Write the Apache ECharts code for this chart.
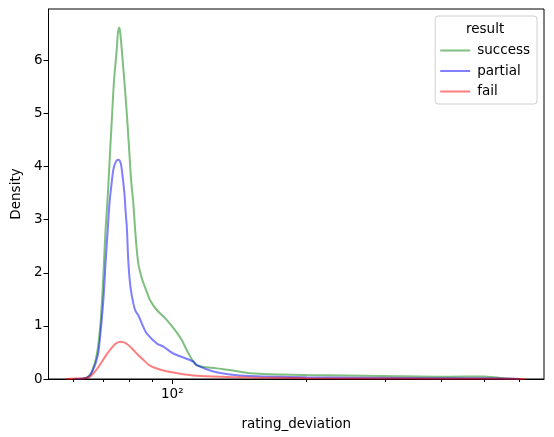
<!DOCTYPE html>
<html>
<head>
<meta charset="utf-8">
<script src="https://cdn.jsdelivr.net/npm/echarts@6/dist/echarts.min.js"></script>
<style>
html,body{margin:0;padding:0;background:#fff;}
#chart{width:554px;height:437px;}
</style>
</head>
<body>
<div id="chart"></div>
<script>
// kde curves, x = rating_deviation, y = density
const successX = [60.5, 64.3, 66.0, 67.7, 68.9, 69.7, 70.3, 70.9, 71.7, 72.6, 73.3, 74.0, 75.1, 75.5, 76.0, 76.45, 77.0, 78.1, 79.1, 80.0, 80.9, 81.8, 82.5, 83.2, 84.0, 85.1, 86.2, 87.5, 89.1, 92.3, 97.2, 101.4, 104.9, 108.6, 113.4, 125.7, 134.6, 149.3, 200, 296.5, 418.8, 496.5, 541.9, 575.6, 600.6]
const successY = [0, 0.025, 0.14, 0.45, 0.96, 1.58, 2.21, 2.84, 3.47, 4.35, 4.98, 5.60, 6.23, 6.50, 6.62, 6.52, 6.23, 5.60, 4.98, 4.35, 3.72, 3.30, 2.84, 2.45, 2.15, 1.95, 1.80, 1.66, 1.49, 1.30, 1.11, 0.92, 0.74, 0.49, 0.26, 0.20, 0.17, 0.11, 0.075, 0.057, 0.043, 0.047, 0.02, 0.006, 0]
const partialX = [60.5, 64.3, 66.2, 68.1, 69.2, 70.2, 70.9, 71.7, 72.3, 73.1, 73.8, 74.8, 75.7, 76.6, 77.3, 78.1, 78.6, 79.1, 79.7, 80.3, 81.1, 82.5, 83.9, 86.1, 87.6, 92.3, 95.5, 100.5, 111.4, 113.4, 123.6, 134.6, 149.3, 200, 323.6, 488.8, 575.6, 600.6]
const partialY = [0, 0.025, 0.14, 0.45, 0.96, 1.58, 2.21, 2.84, 3.30, 3.68, 3.95, 4.10, 4.13, 4.07, 3.85, 3.50, 3.15, 2.84, 2.21, 1.85, 1.58, 1.30, 1.20, 0.98, 0.86, 0.67, 0.61, 0.48, 0.33, 0.26, 0.14, 0.085, 0.057, 0.032, 0.019, 0.013, 0.006, 0]
const failX = [57.8, 60.5, 64.8, 67.1, 69.5, 71.2, 73.2, 74.8, 76.7, 78.75, 81.1, 83.2, 85.4, 89.1, 95.5, 104.1, 113.4, 134.6, 149.3, 200, 323.6, 488.8, 616.6]
const failY = [0, 0.008, 0.025, 0.14, 0.32, 0.46, 0.59, 0.67, 0.70, 0.67, 0.58, 0.48, 0.39, 0.25, 0.16, 0.10, 0.062, 0.04, 0.03, 0.015, 0.008, 0.004, 0]

const names = ['success', 'partial', 'fail']
const colors = ['rgba(0,128,0,0.5)', 'rgba(0,0,255,0.5)', 'rgba(255,0,0,0.5)']
const xMajor = [100]
const xMinor = [60, 70, 80, 90, 200, 300, 400, 500, 600]
const yTicks = [0, 1, 2, 3, 4, 5, 6]

const font = 'DejaVu Sans'
const pairs = (xs, ys) => xs.map((x, i) => [x, ys[i]])
const allData = [pairs(successX, successY), pairs(partialX, partialY), pairs(failX, failY)]

let chart = echarts.init(document.getElementById('chart'))
let option = {
    animation: false,
    backgroundColor: '#fff',
    grid: {
        left: 48.5, right: 10, top: 9, bottom: 58,
        show: true, borderColor: '#000', borderWidth: 1, backgroundColor: 'transparent'
    },
    legend: {
        data: names,
        orient: 'vertical',
        right: 17, top: 16,
        padding: [27.5, 7, 5.5, 5],
        icon: 'rect',
        itemWidth: 30, itemHeight: 2, itemGap: 6.5,
        backgroundColor: '#fff',
        borderColor: '#d0d0d0', borderWidth: 1, borderRadius: 3,
        textStyle: { fontFamily: font, fontSize: 13.5, color: '#000', padding: [0, 0, 0, 2] }
    },
    graphic: [{
        type: 'text', left: 466, top: 22, z: 200,
        style: { text: 'result', fontFamily: font, fontSize: 13.5, fill: '#000' }
    }],
    xAxis: [{
        type: 'log', logBase: 10, min: 52.8, max: 680,
        name: 'rating_deviation', nameLocation: 'middle', nameGap: 38,
        nameTextStyle: { fontFamily: font, fontSize: 13.5, color: '#000' },
        axisLine: { lineStyle: { color: '#000' } },
        axisTick: { customValues: xMajor, length: 5, lineStyle: { color: '#000' } },
        axisLabel: { customValues: xMajor, formatter: () => '10²', fontFamily: font, fontSize: 13.5, color: '#000', margin: 8 },
        splitLine: { show: false }
    }, {
        type: 'log', logBase: 10, min: 52.8, max: 680, position: 'bottom',
        axisLine: { show: false },
        axisTick: { customValues: xMinor, length: 3, lineStyle: { color: '#000' } },
        axisLabel: { show: false },
        splitLine: { show: false }
    }],
    yAxis: {
        type: 'value', min: 0, max: 6.97,
        name: 'Density', nameLocation: 'middle', nameGap: 24,
        nameTextStyle: { fontFamily: font, fontSize: 13.5, color: '#000' },
        axisLine: { show: true, lineStyle: { color: '#000' } },
        axisTick: { show: true, customValues: yTicks, length: 5, lineStyle: { color: '#000' } },
        axisLabel: { customValues: yTicks, fontFamily: font, fontSize: 13.5, color: '#000', margin: 6 },
        splitLine: { show: false }
    },
    series: names.map((n, i) => ({
        name: n,
        type: 'line',
        xAxisIndex: 0,
        data: allData[i],
        smooth: 0.3,
        symbol: 'none',
        color: colors[i],
        lineStyle: { width: 2, color: colors[i] }
    }))
}
chart.setOption(option)
</script>
</body>
</html>
